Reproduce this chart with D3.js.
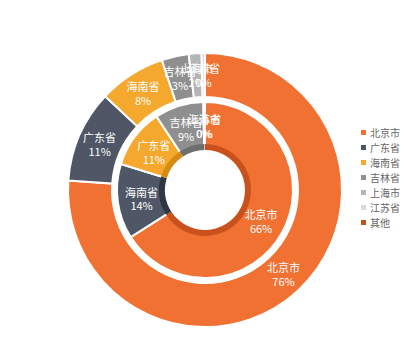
<!DOCTYPE html>
<html><head><meta charset="utf-8">
<script src="https://cdn.jsdelivr.net/npm/d3@7/dist/d3.min.js"></script>
<style>html,body{margin:0;padding:0;background:#fff;}svg{display:block;font-family:"Noto Sans CJK SC","Noto Sans",sans-serif;}</style>
</head><body>
<svg id="c" width="413" height="358"></svg>
<script>
const legendNames = ["北京市","广东省","海南省","吉林省","上海市","江苏省","其他"];
const palette = ["#F07132","#4F5766","#F5A82E","#8F8F8F","#B5B5B5","#DADADA","#C4521D"];
const darkPalette = ["#C9511C","#2F3644","#D68B12","#6E6E6E","#959595","#BBBBBB","#A0401A"];
const outerNames = ["北京市","广东省","海南省","吉林省","上海市","江苏省"];
const outerValues = [76.1, 10.9, 7.9, 3.2, 1.5, 0.4];
const innerNames = ["北京市","海南省","广东省","吉林省","上海市","江苏省"];
const innerValues = [66.2, 13.8, 11.0, 9.0, 0.15, 0.15];

const svg = d3.select("#c");
const cx = 205, cy = 190;
const g = svg.append("g").attr("transform", `translate(${cx},${cy})`);
const pie = d3.pie().sort(null).value(d => d.v);

function pctLabels(vals){
  // largest remainder rounding like echarts
  const sum = d3.sum(vals);
  const raw = vals.map(v => v / sum * 100);
  const fl = raw.map(Math.floor);
  let rem = 100 - d3.sum(fl);
  const order = raw.map((r,i)=>[r-fl[i],i]).sort((a,b)=>b[0]-a[0]);
  for (let k=0;k<rem;k++) fl[order[k][1]]++;
  return fl;
}

function ring(names, values, r0, r1, colors, withLabels, stroke){
  const data = names.map((n,i)=>({n, v: values[i], i}));
  const arcs = pie(data);
  const arc = d3.arc().innerRadius(r0).outerRadius(r1);
  g.append("g").selectAll("path").data(arcs).join("path")
    .attr("d", arc)
    .attr("fill", d => colors[d.index % colors.length])
    .attr("stroke", stroke ? "#fff" : "none")
    .attr("stroke-width", stroke ? 2 : 0);
  if (withLabels){
    const pcts = pctLabels(values);
    const la = d3.arc().innerRadius((r0+r1)/2).outerRadius((r0+r1)/2);
    const lg = g.append("g");
    arcs.forEach((d,i) => {
      const [x,y] = la.centroid(d);
      const t = lg.append("text").attr("text-anchor","middle").attr("fill","#fff")
        .attr("font-size", 11);
      t.append("tspan").attr("x", x).attr("y", y - 2).text(d.data.n);
      t.append("tspan").attr("x", x).attr("y", y + 12).text(pcts[i] + "%");
    });
  }
}

ring(outerNames, outerValues, 93, 137, palette, false, true);
ring(innerNames, innerValues, 40, 88, palette, false, true);
ring(innerNames, innerValues, 40, 46, darkPalette, false, false);
// labels on top
ring(outerNames, outerValues, 93, 137, palette.map(()=>"none"), true, false);
ring(innerNames, innerValues, 40, 88, palette.map(()=>"none"), true, false);

// legend
const lg = svg.append("g").attr("transform","translate(361,133)");
legendNames.forEach((n,i) => {
  const row = lg.append("g").attr("transform",`translate(0,${i*15})`);
  row.append("rect").attr("x",0).attr("y",-3).attr("width",5).attr("height",5).attr("fill",palette[i]);
  row.append("text").attr("x",9).attr("y",3.5).attr("font-size",10).attr("fill","#666").text(n);
});
</script>
</body></html>
